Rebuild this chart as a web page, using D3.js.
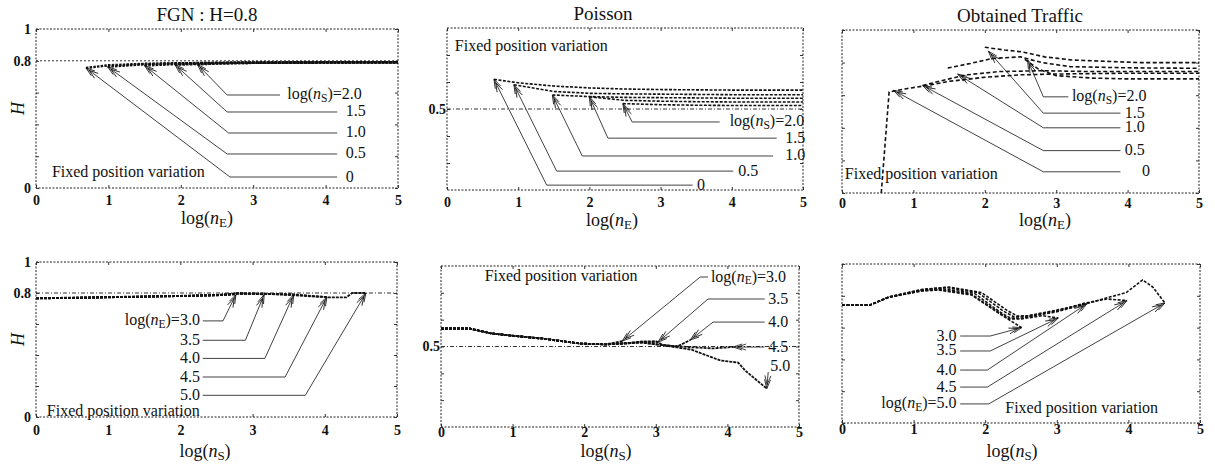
<!DOCTYPE html>
<html>
<head>
<meta charset="utf-8">
<script src="https://cdn.jsdelivr.net/npm/d3@7"></script>
<style>
  body { margin: 0; background: #fff; }
  svg { display: block; }
  svg text { font-family: "Liberation Serif", "Times New Roman", "DejaVu Serif", serif; }
</style>
</head>
<body>
<svg id="fig" width="1215" height="468"></svg>
<script>
// x axis is log(n) from 0 to 5 in every panel
const xTicks = [0, 1, 2, 3, 4, 5];

// top row: H against log(nE), one curve per log(nS)
const nsLevels = ["0", "0.5", "1.0", "1.5", "2.0"];

const fgnNe = [
  [[0.69, 0.755], [1.0, 0.772], [1.5, 0.781], [2.0, 0.785], [2.5, 0.787], [3.0, 0.788], [3.5, 0.789], [4.0, 0.789], [4.5, 0.79], [5.0, 0.79]],
  [[0.99, 0.762], [1.5, 0.778], [2.0, 0.784], [2.5, 0.787], [3.0, 0.788], [3.5, 0.789], [4.0, 0.79], [4.5, 0.79], [5.0, 0.79]],
  [[1.5, 0.77], [2.0, 0.781], [2.5, 0.786], [3.0, 0.788], [3.5, 0.789], [4.0, 0.79], [4.5, 0.79], [5.0, 0.791]],
  [[1.92, 0.775], [2.5, 0.784], [3.0, 0.787], [3.5, 0.789], [4.0, 0.79], [4.5, 0.79], [5.0, 0.791]],
  [[2.23, 0.777], [2.5, 0.783], [3.0, 0.787], [3.5, 0.789], [4.0, 0.79], [4.5, 0.791], [5.0, 0.791]]
];

const poissonNe = [
  [[0.66, 0.61], [1.0, 0.597], [1.5, 0.585], [2.0, 0.578], [2.5, 0.574], [3.0, 0.572], [3.5, 0.571], [4.0, 0.57], [4.5, 0.57], [5.0, 0.57]],
  [[0.94, 0.59], [1.5, 0.565], [2.0, 0.558], [2.5, 0.556], [3.0, 0.555], [3.5, 0.554], [4.0, 0.553], [4.5, 0.553], [5.0, 0.553]],
  [[1.48, 0.552], [2.0, 0.546], [2.5, 0.543], [3.0, 0.542], [3.5, 0.541], [4.0, 0.54], [4.5, 0.54], [5.0, 0.54]],
  [[2.0, 0.545], [2.5, 0.532], [3.0, 0.529], [3.5, 0.527], [4.0, 0.526], [4.5, 0.526], [5.0, 0.526]],
  [[2.47, 0.52], [3.0, 0.516], [3.5, 0.514], [4.0, 0.513], [4.5, 0.513], [5.0, 0.513]]
];

const trafficNe = [
  [[0.55, 0.0], [0.66, 0.62], [0.9, 0.64], [1.2, 0.66], [1.5, 0.685], [2.0, 0.71], [2.5, 0.725], [3.0, 0.73], [4.0, 0.735], [5.0, 0.735]],
  [[1.13, 0.66], [1.5, 0.70], [1.75, 0.725], [2.2, 0.745], [2.8, 0.75], [3.5, 0.745], [4.0, 0.745], [5.0, 0.745]],
  [[1.48, 0.767], [1.8, 0.795], [2.1, 0.825], [2.5, 0.835], [2.8, 0.80], [3.2, 0.775], [4.0, 0.768], [5.0, 0.765]],
  [[2.0, 0.894], [2.28, 0.877], [2.52, 0.866], [2.84, 0.835], [3.22, 0.816], [4.15, 0.80], [5.0, 0.80]],
  [[2.56, 0.82], [2.75, 0.76], [3.0, 0.72], [3.5, 0.705], [4.0, 0.70], [5.0, 0.70]]
];
const trafficNeTips = [[0.72, 0.63], [1.13, 0.66], [1.62, 0.73], [2.05, 0.87], [2.6, 0.816]];

// bottom row: H against log(nS), one curve per log(nE)
const neLevels = ["3.0", "3.5", "4.0", "4.5", "5.0"];

const fgnNs = [
  [[0, 0.765], [0.5, 0.768], [1.0, 0.772], [1.5, 0.776], [2.0, 0.78], [2.5, 0.785], [2.77, 0.79]],
  [[0, 0.765], [0.5, 0.768], [1.0, 0.772], [1.5, 0.776], [2.0, 0.78], [2.5, 0.785], [2.8, 0.797], [3.0, 0.796], [3.16, 0.79]],
  [[0, 0.766], [0.5, 0.769], [1.0, 0.773], [1.5, 0.777], [2.0, 0.781], [2.5, 0.786], [2.8, 0.797], [3.16, 0.795], [3.57, 0.79]],
  [[0, 0.766], [0.5, 0.769], [1.0, 0.773], [1.5, 0.777], [2.0, 0.781], [2.5, 0.786], [2.8, 0.797], [3.2, 0.794], [3.6, 0.785], [3.8, 0.778], [4.03, 0.775]],
  [[0, 0.767], [0.5, 0.77], [1.0, 0.774], [1.5, 0.778], [2.0, 0.782], [2.5, 0.787], [2.8, 0.797], [3.2, 0.795], [3.6, 0.79], [4.05, 0.772], [4.3, 0.772], [4.38, 0.80], [4.57, 0.80]]
];

const poissonNs = [
  [[0, 0.567], [0.4, 0.567], [0.7, 0.549], [1.0, 0.54], [1.4, 0.53], [1.95, 0.511], [2.3, 0.508], [2.53, 0.52]],
  [[0, 0.567], [0.4, 0.567], [0.7, 0.549], [1.0, 0.54], [1.4, 0.53], [1.95, 0.511], [2.3, 0.508], [2.6, 0.512], [2.8, 0.518], [3.03, 0.516]],
  [[0, 0.567], [0.4, 0.567], [0.7, 0.549], [1.0, 0.54], [1.4, 0.53], [1.95, 0.511], [2.3, 0.508], [2.6, 0.512], [2.8, 0.518], [3.0, 0.52], [3.1, 0.505], [3.3, 0.5], [3.48, 0.524]],
  [[0, 0.567], [0.4, 0.567], [0.7, 0.549], [1.0, 0.54], [1.4, 0.53], [1.95, 0.511], [2.3, 0.508], [2.6, 0.512], [2.8, 0.515], [3.1, 0.505], [3.5, 0.497], [3.8, 0.493], [4.08, 0.498]],
  [[0, 0.567], [0.4, 0.567], [0.7, 0.549], [1.0, 0.54], [1.4, 0.53], [1.95, 0.511], [2.3, 0.508], [2.6, 0.512], [2.8, 0.515], [3.1, 0.505], [3.5, 0.488], [3.9, 0.448], [4.15, 0.44], [4.25, 0.41], [4.55, 0.343]]
];

const trafficNs = [
  [[0, 0.742], [0.39, 0.742], [0.65, 0.79], [1.11, 0.83], [1.35, 0.836], [1.81, 0.805], [2.19, 0.69], [2.33, 0.65], [2.51, 0.60]],
  [[0, 0.742], [0.39, 0.742], [0.65, 0.79], [1.11, 0.832], [1.35, 0.84], [1.81, 0.81], [2.19, 0.695], [2.33, 0.655], [2.51, 0.655], [2.8, 0.675], [3.02, 0.66]],
  [[0, 0.742], [0.39, 0.742], [0.65, 0.792], [1.11, 0.835], [1.4, 0.845], [1.85, 0.815], [2.2, 0.70], [2.35, 0.66], [2.51, 0.66], [3.0, 0.70], [3.42, 0.75]],
  [[0, 0.742], [0.39, 0.742], [0.65, 0.792], [1.11, 0.838], [1.45, 0.852], [1.9, 0.82], [2.25, 0.705], [2.4, 0.668], [2.6, 0.672], [3.0, 0.705], [3.4, 0.755], [3.7, 0.78], [3.98, 0.77]],
  [[0, 0.742], [0.39, 0.742], [0.65, 0.792], [1.11, 0.84], [1.5, 0.855], [1.95, 0.82], [2.3, 0.71], [2.45, 0.672], [2.6, 0.675], [3.0, 0.71], [3.41, 0.75], [3.69, 0.786], [3.97, 0.82], [4.2, 0.90], [4.34, 0.855], [4.51, 0.755]]
];

const SERIF = '"Liberation Serif", "Times New Roman", "DejaVu Serif", serif';
const svg = d3.select("#fig");

// open double arrow head used on the leader lines
svg.append("defs").append("marker")
  .attr("id", "arr")
  .attr("viewBox", "-14 -5 16 10")
  .attr("refX", 0).attr("refY", 0)
  .attr("markerWidth", 16).attr("markerHeight", 10)
  .attr("markerUnits", "userSpaceOnUse")
  .attr("orient", "auto")
  .append("path")
  .attr("d", "M-9,-3L0,0L-9,3M-13,-3L-4,0L-13,3")
  .attr("fill", "none")
  .attr("stroke", "#111")
  .attr("stroke-width", 0.8);

// writes "log(n_sub)" + rest into a text element
function logText(t, sub, rest, drop) {
  t.append("tspan").text("log(");
  t.append("tspan").attr("font-style", "italic").text("n");
  t.append("tspan").attr("font-size", "0.72em").attr("dy", drop).text(sub);
  t.append("tspan").attr("dy", -drop).text(")" + rest);
}

function drawPanel(p) {
  const x = d3.scaleLinear().domain([0, 5]).range([p.left, p.right]);
  const y = d3.scaleLinear().domain(p.yDomain).range([p.bottom, p.top]);
  const g = svg.append("g").attr("font-family", SERIF);

  // dotted frame
  g.append("rect")
    .attr("x", p.left).attr("y", p.top)
    .attr("width", p.right - p.left).attr("height", p.bottom - p.top)
    .attr("fill", "none").attr("stroke", "#222")
    .attr("stroke-width", 1).attr("stroke-dasharray", "2,1.5");

  // inward ticks on all sides
  const axB = g.append("g").attr("transform", `translate(0,${p.bottom})`)
    .call(d3.axisBottom(x).tickValues(xTicks).tickSize(-3).tickPadding(p.xPad).tickFormat(d3.format("d")));
  g.append("g").attr("transform", `translate(0,${p.top})`)
    .call(d3.axisTop(x).tickValues(xTicks).tickSize(-3).tickFormat(""));
  const axL = g.append("g").attr("transform", `translate(${p.left},0)`)
    .call(d3.axisLeft(y).tickValues(p.yTicks).tickSize(-3).tickPadding(p.yPad)
      .tickFormat(d => p.yLabels[d] || ""));
  g.append("g").attr("transform", `translate(${p.right},0)`)
    .call(d3.axisRight(y).tickValues(p.yTicks).tickSize(-3).tickFormat(""));
  g.selectAll(".domain").remove();
  g.selectAll(".tick line").attr("stroke", "#333");
  [axB, axL].forEach(a => {
    a.attr("font-family", SERIF);
    a.selectAll("text")
      .attr("font-family", SERIF).attr("font-size", 14)
      .attr("font-weight", "bold").attr("fill", "#111");
  });

  // reference level
  if (p.ref != null) {
    g.append("line")
      .attr("x1", p.left).attr("x2", p.right)
      .attr("y1", y(p.ref)).attr("y2", y(p.ref))
      .attr("stroke", "#333").attr("stroke-width", 1)
      .attr("stroke-dasharray", p.refDash);
  }

  // curves
  const line = d3.line().x(d => x(d[0])).y(d => y(d[1]));
  g.selectAll(".curve").data(p.series).join("path")
    .attr("class", "curve")
    .attr("d", line)
    .attr("fill", "none").attr("stroke", "#111")
    .attr("stroke-width", p.curveWidth)
    .attr("stroke-dasharray", p.curveDash);

  // leader lines with arrows
  p.series.forEach((s, i) => {
    const L = p.leaders[i];
    const tip = p.tips ? p.tips[i] : (p.tipAtEnd ? s[s.length - 1] : s[0]);
    const pts = L.xb == null ? [[L.xe, L.y], tip] : [[L.xe, L.y], [L.xb, L.y], tip];
    g.append("path")
      .attr("d", line(pts))
      .attr("fill", "none").attr("stroke", "#111").attr("stroke-width", 0.8)
      .attr("marker-end", "url(#arr)");
    const t = g.append("text")
      .attr("x", x(L.tx)).attr("y", y(L.ty != null ? L.ty : L.y) + 4.5)
      .attr("text-anchor", L.anchor || "start")
      .attr("font-size", 16).attr("fill", "#111");
    if (L.full) logText(t, p.levelSub, "=" + p.levels[i], 2.5);
    else t.text(p.levels[i]);
  });

  // caption inside the frame
  g.append("text")
    .attr("x", x(p.note[0])).attr("y", y(p.note[1]))
    .attr("font-size", 16).attr("fill", "#111")
    .text("Fixed position variation");

  if (p.title) {
    g.append("text").attr("x", p.titleX).attr("y", p.top - 8)
      .attr("text-anchor", "middle").attr("font-size", 19).attr("fill", "#111")
      .text(p.title);
  }

  const xl = g.append("text")
    .attr("x", p.xLabelX).attr("y", p.xLabelY)
    .attr("text-anchor", "middle").attr("font-size", 18).attr("fill", "#111");
  logText(xl, p.axisSub, "", 3);

  if (p.showH) {
    g.append("text")
      .attr("transform", `translate(24,${(p.top + p.bottom) / 2}) rotate(-90)`)
      .attr("text-anchor", "middle").attr("font-size", 18)
      .attr("font-style", "italic").attr("fill", "#111")
      .text("H");
  }
}

const unitTicks = [0, 0.2, 0.4, 0.6, 0.8, 1];
const midTicks = [0.3, 0.4, 0.5, 0.6, 0.7];
const unitLabels = { 0: "0", 0.8: "0.8", 1: "1" };

drawPanel({
  left: 36, right: 398, top: 29, bottom: 188, yDomain: [0, 1], xPad: 7,
  yTicks: unitTicks, yLabels: unitLabels, yPad: 5, ref: 0.8, refDash: "2,2",
  series: fgnNe, curveWidth: 2.4, curveDash: "2.5,1.2",
  levels: nsLevels, levelSub: "S", axisSub: "E",
  leaders: [
    { y: 0.069, xb: 2.68, xe: 4.16, tx: 4.28 },
    { y: 0.214, xb: 2.64, xe: 4.16, tx: 4.28 },
    { y: 0.346, xb: 2.66, xe: 4.16, tx: 4.28 },
    { y: 0.478, xb: 2.64, xe: 4.16, tx: 4.28 },
    { y: 0.585, xb: 2.64, xe: 3.37, tx: 3.47, full: true }
  ],
  note: [0.22, 0.07], title: "FGN : H=0.8", titleX: 207,
  xLabelX: 207, xLabelY: 224, showH: true
});

drawPanel({
  left: 447, right: 803, top: 28, bottom: 190, yDomain: [0.2, 0.8], xPad: 7,
  yTicks: midTicks, yLabels: { 0.5: "0.5" }, yPad: 1, ref: 0.5, refDash: "4,2,1,2",
  series: poissonNe, curveWidth: 1.6, curveDash: "3,1.5",
  levels: nsLevels, levelSub: "S", axisSub: "E",
  leaders: [
    { y: 0.218, xb: 1.40, xe: 3.45, tx: 3.51 },
    { y: 0.27, xb: 1.54, xe: 4.02, tx: 4.09 },
    { y: 0.326, xb: 1.90, xe: 4.58, tx: 4.75 },
    { y: 0.392, xb: 2.26, xe: 4.63, tx: 4.75 },
    { y: 0.452, xb: 2.60, xe: 3.83, tx: 3.97, full: true }
  ],
  note: [0.11, 0.715], title: "Poisson", titleX: 603,
  xLabelX: 612, xLabelY: 226
});

drawPanel({
  left: 842, right: 1199, top: 30, bottom: 193, yDomain: [0, 1], xPad: 5,
  yTicks: unitTicks, yLabels: {}, yPad: 3, ref: null,
  series: trafficNe, tips: trafficNeTips, curveWidth: 1.6, curveDash: "4,2.5",
  levels: nsLevels, levelSub: "S", axisSub: "E",
  leaders: [
    { y: 0.13, xb: 2.82, xe: 3.9, tx: 4.2 },
    { y: 0.26, xb: 2.82, xe: 3.9, tx: 3.96 },
    { y: 0.40, xb: 2.82, xe: 3.9, tx: 3.96 },
    { y: 0.49, xb: 2.82, xe: 3.9, tx: 3.96 },
    { y: 0.59, xb: 2.82, xe: 3.17, tx: 3.22, full: true }
  ],
  note: [0.04, 0.086], title: "Obtained Traffic", titleX: 1020,
  xLabelX: 1045, xLabelY: 226
});

drawPanel({
  left: 36, right: 397, top: 262, bottom: 417, yDomain: [0, 1], xPad: 8,
  yTicks: unitTicks, yLabels: unitLabels, yPad: 5, ref: 0.8, refDash: "4,2,1,2",
  series: fgnNs, tipAtEnd: true, curveWidth: 1.8, curveDash: "3,1",
  levels: neLevels, levelSub: "E", axisSub: "S",
  leaders: [
    { y: 0.62, xb: 2.59, xe: 2.31, tx: 2.27, anchor: "end", full: true },
    { y: 0.495, xb: 2.90, xe: 2.31, tx: 2.27, anchor: "end" },
    { y: 0.378, xb: 3.17, xe: 2.31, tx: 2.27, anchor: "end" },
    { y: 0.258, xb: 3.45, xe: 2.31, tx: 2.27, anchor: "end" },
    { y: 0.14, xb: 3.73, xe: 2.31, tx: 2.27, anchor: "end" }
  ],
  note: [0.15, 0.005], xLabelX: 205, xLabelY: 457, showH: true
});

drawPanel({
  left: 441, right: 799, top: 266, bottom: 427, yDomain: [0.2, 0.8], xPad: 0,
  yTicks: midTicks, yLabels: { 0.5: "0.5" }, yPad: 1, ref: 0.5, refDash: "4,2,1,2",
  series: poissonNs, tipAtEnd: true, curveWidth: 1.8, curveDash: "3,1",
  levels: neLevels, levelSub: "E", axisSub: "S",
  leaders: [
    { y: 0.759, xb: 3.62, xe: 3.73, tx: 3.77, full: true },
    { y: 0.677, xb: 3.73, xe: 4.52, tx: 4.57 },
    { y: 0.591, xb: 3.80, xe: 4.52, tx: 4.57 },
    { y: 0.498, xb: null, xe: 4.52, tx: 4.57 },
    { y: 0.405, xb: null, xe: 4.57, tx: 4.6, ty: 0.424 }
  ],
  note: [0.61, 0.744], xLabelX: 606, xLabelY: 457
});

drawPanel({
  left: 842, right: 1200, top: 264, bottom: 423, yDomain: [0, 1], xPad: 1,
  yTicks: unitTicks, yLabels: {}, yPad: 3, ref: null,
  series: trafficNs, tipAtEnd: true, curveWidth: 1.6, curveDash: "3,1.5",
  levels: neLevels, levelSub: "E", axisSub: "S",
  leaders: [
    { y: 0.547, xb: 2.07, xe: 1.65, tx: 1.6, anchor: "end" },
    { y: 0.453, xb: 2.07, xe: 1.65, tx: 1.6, anchor: "end" },
    { y: 0.333, xb: 2.03, xe: 1.65, tx: 1.6, anchor: "end" },
    { y: 0.226, xb: 2.03, xe: 1.65, tx: 1.6, anchor: "end" },
    { y: 0.12, xb: 2.05, xe: 1.65, tx: 1.6, anchor: "end", full: true }
  ],
  note: [2.28, 0.063], xLabelX: 1012, xLabelY: 457
});
</script>
</body>
</html>
